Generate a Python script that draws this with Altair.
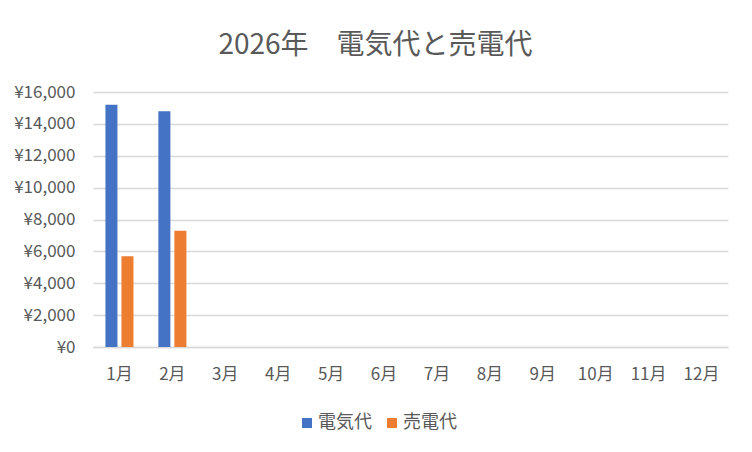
import altair as alt
import pandas as pd

months = ["1月", "2月", "3月", "4月", "5月", "6月", "7月", "8月", "9月", "10月", "11月", "12月"]
series = ["電気代", "売電代"]
denki = [15200, 14800]
baiden = [5700, 7300]
title_text = "2026年　電気代と売電代"

rows = []
for i, v in enumerate(denki):
    rows.append({"month": months[i], "series": series[0], "value": v})
for i, v in enumerate(baiden):
    rows.append({"month": months[i], "series": series[1], "value": v})
df = pd.DataFrame(rows)

FONT = "Noto Sans CJK JP"
GRAY = "#595959"

chart = alt.Chart(df).mark_bar().encode(
    x=alt.X("month:N", sort=months,
            scale=alt.Scale(domain=months, paddingInner=0.47, paddingOuter=0.235),
            axis=alt.Axis(title=None, labelAngle=0, labelFontSize=17, labelColor=GRAY,
                          labelFont=FONT, ticks=False, domainColor="#D9D9D9",
                          domainWidth=1.5, labelPadding=19, grid=False)),
    xOffset=alt.XOffset("series:N", sort=series,
                        scale=alt.Scale(domain=series, paddingInner=0.25, paddingOuter=0)),
    y=alt.Y("value:Q",
            scale=alt.Scale(domain=[0, 16000], nice=False),
            axis=alt.Axis(title=None, values=list(range(0, 16001, 2000)),
                          labelExpr="'¥' + format(datum.value, ',')",
                          labelFontSize=17, labelColor=GRAY, labelFont=FONT,
                          ticks=False, domain=False, gridColor="#D9D9D9",
                          gridWidth=1.5, labelPadding=18)),
    color=alt.Color("series:N", sort=series,
                    scale=alt.Scale(domain=series, range=["#4472C4", "#ED7D31"]),
                    legend=alt.Legend(title=None, orient="none", direction="horizontal",
                                      legendX=205, legendY=322, symbolType="square",
                                      symbolSize=100, symbolStrokeWidth=0,
                                      labelFontSize=18, labelColor=GRAY, labelFont=FONT,
                                      labelOffset=2, columnPadding=11, padding=0)),
).properties(
    width=635,
    height=255,
    title=alt.TitleParams(title_text, anchor="middle", fontSize=28, font=FONT,
                          color=GRAY, fontWeight="normal", dx=-35, offset=23),
    autosize=alt.AutoSizeParams(type="none"),
    padding={"left": 85, "top": 84, "right": 16, "bottom": 97},
    background="white",
).configure_view(strokeWidth=0, strokeOpacity=0)

chart.save("out.html", embed_options={"renderer": "svg", "actions": False})
